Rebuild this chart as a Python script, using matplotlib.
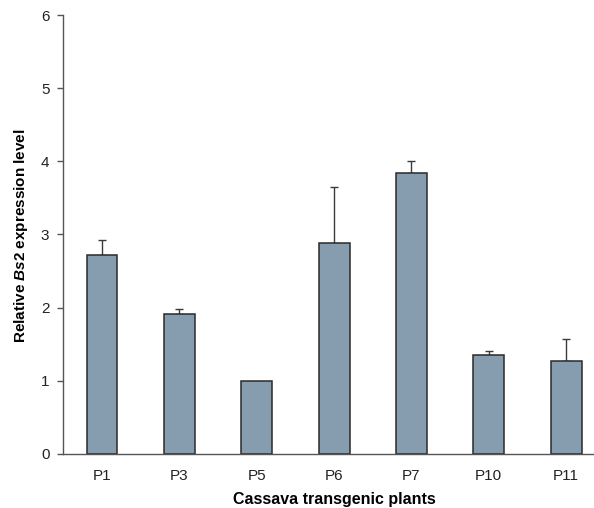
import matplotlib
matplotlib.use("Agg")
import matplotlib.pyplot as plt
import numpy as np

plants = ["P1", "P3", "P5", "P6", "P7", "P10", "P11"]
expression = [2.72, 1.91, 1.00, 2.88, 3.84, 1.355, 1.265]
err_upper = [0.21, 0.07, 0.0, 0.77, 0.17, 0.05, 0.30]
y_ticks = [0, 1, 2, 3, 4, 5, 6]

plt.rcParams["font.family"] = ["Liberation Sans", "DejaVu Sans"]
plt.rcParams["mathtext.fontset"] = "custom"
plt.rcParams["mathtext.it"] = "Liberation Sans:italic:bold"
plt.rcParams["mathtext.rm"] = "Liberation Sans:bold"

fig = plt.figure(figsize=(5.94, 5.08), dpi=100)
# right edge runs past the canvas, as in the reference (axis line cut at the border)
ax = fig.add_axes([0.1066, 0.1069, 0.9116, 0.863])

x = np.arange(len(plants))
errs = np.vstack([np.zeros(len(plants)), err_upper])
ax.bar(x, expression, width=0.4, color="#869db0", edgecolor="#2a2a2a",
       linewidth=1.1, zorder=2)
mask = np.array(err_upper) > 0
ax.errorbar(x[mask], np.array(expression)[mask], yerr=errs[:, mask],
            fmt="none", ecolor="#3a3a3a", elinewidth=1.0, capsize=3,
            capthick=1.0, zorder=1)

ax.set_xlim(-0.5, len(plants) - 0.5)
ax.set_ylim(0, 6)
ax.set_yticks(y_ticks)
ax.set_xticks(x)
ax.set_xticklabels(plants)

for side in ("top", "right"):
    ax.spines[side].set_visible(False)
for side in ("left", "bottom"):
    ax.spines[side].set_color("#555555")
    ax.spines[side].set_linewidth(1.0)
ax.tick_params(axis="y", direction="out", length=4, width=1.0,
               color="#555555", labelsize=11, labelcolor="#222222", pad=6)
ax.tick_params(axis="x", length=0, labelsize=11, labelcolor="#222222", pad=11)

ax.set_ylabel(r"Relative $\mathit{Bs2}$ expression level", fontsize=11,
              fontweight="bold")
ax.set_xlabel("Cassava transgenic plants", fontsize=11.5, fontweight="bold")
ax_w = 604.8 - 63.3
ax.xaxis.set_label_coords(0.5, -0.088)
ax.yaxis.set_label_coords(-(63.3 - 30) / ax_w, (453.7 - 236) / 438.4)

fig.savefig("out.png", dpi=100)
